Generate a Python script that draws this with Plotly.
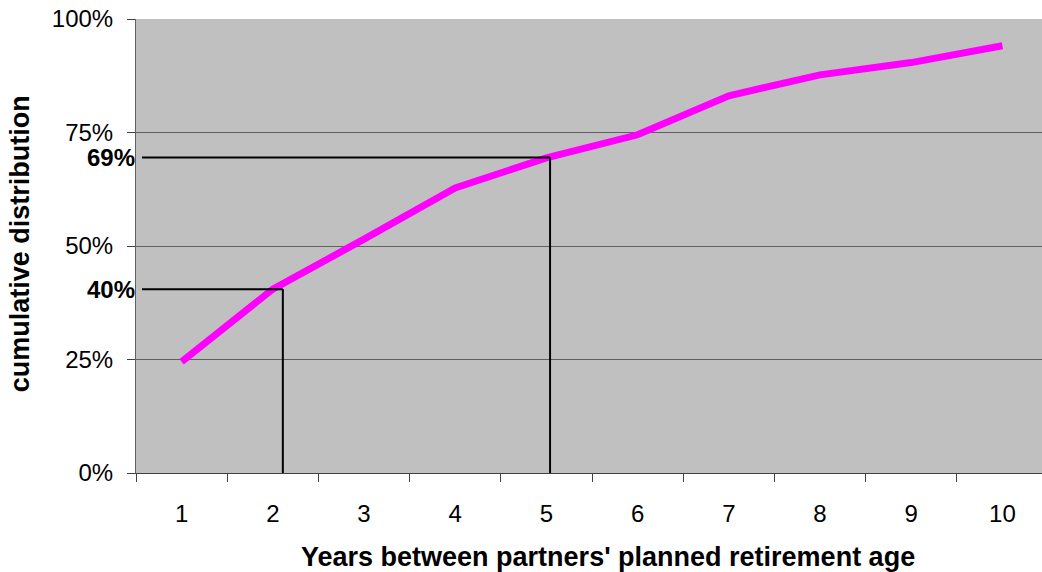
import plotly.graph_objects as go

# ---- data ----
years = ["1", "2", "3", "4", "5", "6", "7", "8", "9", "10"]
cumulative = [24.5, 40.5, 51.5, 62.8, 69.4, 74.5, 83.1, 87.7, 90.4, 94.1]
y_ticks = [0, 25, 50, 75, 100]
y_tick_text = ["0%", "25%", "50%", "75%", "100%"]
ref_y = [40.5, 69.5]          # marked cumulative levels
ref_x = [1.11, 4.04]          # category-index position of the drop lines
ref_labels = ["40%", "69%"]
x_title = "Years between partners' planned retirement age"
y_title = "cumulative distribution"

FONT = "Liberation Sans, Arial, sans-serif"
TICK_SIZE = 24
TITLE_SIZE = 27

fig = go.Figure()
fig.add_trace(go.Scatter(
    x=years, y=cumulative, mode="lines",
    line=dict(color="#FF00FF", width=7),
    showlegend=False, hoverinfo="skip",
))

shapes = []
for yv, xv in zip(ref_y, ref_x):
    shapes.append(dict(type="line", xref="x", yref="y", x0=-0.434, x1=xv, y0=yv, y1=yv,
                       line=dict(color="black", width=2)))
    shapes.append(dict(type="line", xref="x", yref="y", x0=xv, x1=xv, y0=0, y1=yv,
                       line=dict(color="black", width=2)))

annotations = []
for yv, lab in zip(ref_y, ref_labels):
    annotations.append(dict(xref="paper", yref="y", x=0, y=yv, text="<b>%s</b>" % lab,
                            showarrow=False, xanchor="right", yanchor="middle",
                            font=dict(family=FONT, size=TICK_SIZE, color="black"), xshift=1))
annotations.append(dict(xref="paper", yref="paper", x=0.521, y=-0.185,
                        text="<b>%s</b>" % x_title, showarrow=False,
                        xanchor="center", yanchor="middle",
                        font=dict(family=FONT, size=TITLE_SIZE, color="black")))
annotations.append(dict(xref="paper", yref="paper", x=-0.128, y=0.504,
                        text="<b>%s</b>" % y_title, showarrow=False, textangle=-90,
                        xanchor="center", yanchor="middle",
                        font=dict(family=FONT, size=TITLE_SIZE, color="black")))

fig.update_layout(
    width=1042, height=572, autosize=False,
    margin=dict(l=136, r=0, t=19, b=99, autoexpand=False),
    paper_bgcolor="white", plot_bgcolor="#C0C0C0",
    font=dict(family=FONT, size=TICK_SIZE, color="black"),
    shapes=shapes, annotations=annotations,
    xaxis=dict(
        type="category", range=[-0.5, 9.434],
        tickson="boundaries", ticks="outside", ticklen=8, tickcolor="#404040",
        showgrid=False, showline=True, linecolor="#404040", linewidth=1,
        ticklabelstandoff=19,
        tickfont=dict(family=FONT, size=TICK_SIZE, color="black"),
    ),
    yaxis=dict(
        range=[0, 100], tickmode="array", tickvals=y_ticks, ticktext=y_tick_text,
        ticks="outside", ticklen=8, tickcolor="#404040",
        showgrid=True, gridcolor="#606060", gridwidth=1,
        showline=True, linecolor="#606060", linewidth=1, zeroline=False,
        ticklabelstandoff=9,
        tickfont=dict(family=FONT, size=TICK_SIZE, color="black"),
    ),
)

fig.write_html("out.html", config={"displayModeBar": False})
with open("out.html", "r", encoding="utf-8") as f:
    html = f.read()
html = html.replace("<head>", "<head><style>html,body{margin:0;padding:0;overflow:hidden}</style>", 1)
with open("out.html", "w", encoding="utf-8") as f:
    f.write(html)
